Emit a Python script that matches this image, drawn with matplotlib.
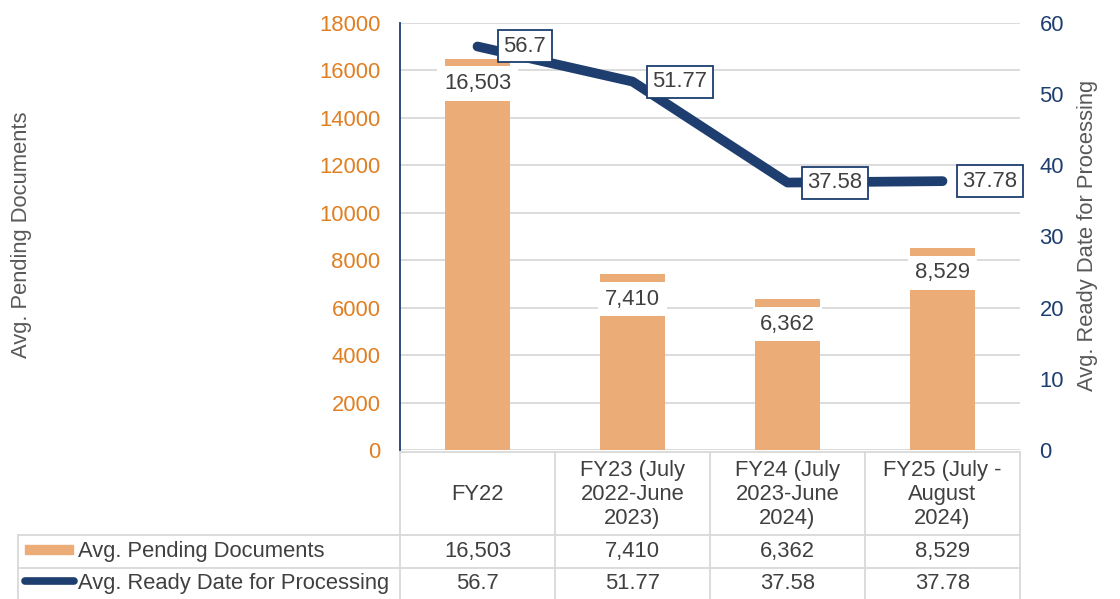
import numpy as np
import matplotlib.pyplot as plt
from matplotlib.patches import Rectangle

plt.rcParams['font.family'] = ['Liberation Sans', 'DejaVu Sans']

# --- data ---
categories = ['FY22', 'FY23 (July\n2022-June\n2023)', 'FY24 (July\n2023-June\n2024)',
              'FY25 (July -\nAugust\n2024)']
pending = [16503, 7410, 6362, 8529]
ready = [56.7, 51.77, 37.58, 37.78]
pending_labels = ['16,503', '7,410', '6,362', '8,529']
ready_labels = ['56.7', '51.77', '37.58', '37.78']
series_names = ['Avg. Pending Documents', 'Avg. Ready Date for Processing']

orange = '#ECAC78'
orange_txt = '#E07F22'
navy = '#1D3E6E'
grid_c = '#D9D9D9'
txt_c = '#404040'
lab_c = '#595959'
fs = 15.8

W, H = 1120, 599
fig = plt.figure(figsize=(W / 100, H / 100), dpi=100)


def box(x0, y0, x1, y1):
    # pixel box (top-left origin) -> figure fraction rect
    return [x0 / W, 1 - y1 / H, (x1 - x0) / W, (y1 - y0) / H]


# --- main axes ---
ax = fig.add_axes(box(400, 23, 1020, 450))
x = np.arange(len(categories))
ax.bar(x, pending, width=0.42, color=orange, zorder=2)
ax.set_xlim(-0.5, len(categories) - 0.5)
ax.set_ylim(0, 18000)
ax.set_yticks(range(0, 18001, 2000))
ax.set_xticks([])
ax.yaxis.grid(True, color=grid_c, lw=1.3)
ax.set_axisbelow(True)
for s in ['top', 'right', 'bottom']:
    ax.spines[s].set_visible(False)
ax.spines['left'].set_color(navy)
ax.spines['left'].set_linewidth(1.3)
ax.tick_params(axis='y', length=0, pad=14, labelsize=fs, colors=orange_txt)

for xi, v, lbl in zip(x, pending, pending_labels):
    ax.annotate(lbl, (xi, v), xytext=(0, -18), textcoords='offset points',
                ha='center', va='center', fontsize=fs, color=txt_c, zorder=5,
                bbox=dict(boxstyle='square,pad=0.3', fc='white', ec='none'))

# --- secondary axis: line ---
ax2 = ax.twinx()
ax2.plot(x, ready, color=navy, lw=7, solid_capstyle='round', zorder=3)
ax2.set_ylim(0, 60)
ax2.set_yticks(range(0, 61, 10))
for s in ['top', 'right', 'bottom', 'left']:
    ax2.spines[s].set_visible(False)
ax2.tick_params(axis='y', length=0, pad=14, labelsize=fs, colors=navy)

for xi, v, lbl in zip(x, ready, ready_labels):
    ax2.annotate(lbl, (xi, v), xytext=(34, 0), textcoords='offset points',
                 ha='center', va='center', fontsize=fs, color=txt_c, zorder=6,
                 bbox=dict(boxstyle='square,pad=0.25', fc='white', ec=navy, lw=1.3))

fig.text(22 / W, 1 - 235 / H, 'Avg. Pending Documents', rotation=90,
         ha='center', va='center', fontsize=fs, color=lab_c)
fig.text(1088 / W, 1 - 235 / H, 'Avg. Ready Date for Processing', rotation=90,
         ha='center', va='center', fontsize=fs, color=lab_c)

# --- data table below the chart (pixel coordinates) ---
tax = fig.add_axes([0, 0, 1, 1], zorder=-1)
tax.set_xlim(0, W)
tax.set_ylim(H, 0)
tax.axis('off')

col_w = 155
col_edges = 400 + col_w * np.arange(len(categories) + 1)
row_top, row1, row2, row_bot = 452, 535, 568, 601

tax.plot([col_edges[0], col_edges[-1]], [row_top, row_top], color=grid_c, lw=1.3)
for yy in [row1, row2, row_bot]:
    tax.plot([18, col_edges[-1]], [yy, yy], color=grid_c, lw=1.3)
tax.plot([18, 18], [row1, row_bot], color=grid_c, lw=1.3)
for xe in col_edges:
    tax.plot([xe, xe], [row_top, row_bot], color=grid_c, lw=1.3)

centers = col_edges[:-1] + col_w / 2
for cx, cat, p, r in zip(centers, categories, pending_labels, ready_labels):
    tax.text(cx, (row_top + row1) / 2 + 1, cat, ha='center', va='center',
             fontsize=fs, color=txt_c, linespacing=1.2)
    tax.text(cx, (row1 + row2) / 2, p, ha='center', va='center', fontsize=fs, color=txt_c)
    tax.text(cx, (row2 + row_bot) / 2 - 1, r, ha='center', va='center', fontsize=fs, color=txt_c)

# legend keys in first column
tax.add_patch(Rectangle((25, 545), 48, 9, color=orange))
tax.plot([25, 74], [581, 581], color=navy, lw=5.5, solid_capstyle='round')
tax.text(78, (row1 + row2) / 2, series_names[0], ha='left', va='center', fontsize=fs, color=txt_c)
tax.text(78, (row2 + row_bot) / 2 - 1, series_names[1], ha='left', va='center', fontsize=fs, color=txt_c)

plt.savefig('out.png', dpi=100)
